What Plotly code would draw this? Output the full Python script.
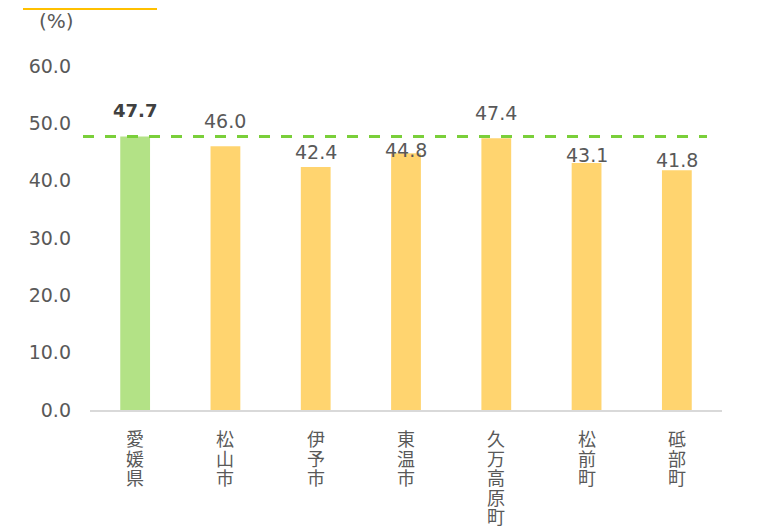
import plotly.graph_objects as go

categories = ["愛媛県", "松山市", "伊予市", "東温市", "久万高原町", "松前町", "砥部町"]
values = [47.7, 46.0, 42.4, 44.8, 47.4, 43.1, 41.8]
y_ticks = [0, 10, 20, 30, 40, 50, 60]
y_ticklabels = ["0.0", "10.0", "20.0", "30.0", "40.0", "50.0", "60.0"]
unit_label = "(%)"

# styles
GREEN = "#B3E286"
YELLOW = "#FFD46F"
colors = [GREEN] + [YELLOW] * (len(categories) - 1)
label_shift = [26, 25, 15, 3, 25, 8, 10]  # px above bar top (style)

# page has an 8px body margin; figure coords = page coords - 8
OFF = 8
W, H = 760, 529
ML, MR, MT, MB = 82, 46, 58, 127
PW, PH = W - ML - MR, H - MT - MB


def px_x(x):
    return (x - OFF - ML) / PW


def px_y(y):
    return (H - MB - (y - OFF)) / PH


FONT = "DejaVu Sans"
CJK = "Noto Sans CJK JP"
GRAY = "#595959"

fig = go.Figure()
fig.add_trace(go.Bar(
    x=categories, y=values, marker_color=colors, marker_line_width=0,
    width=0.33, hoverinfo="skip",
))

annotations = []
for i, (c, v) in enumerate(zip(categories, values)):
    annotations.append(dict(
        x=c, y=v, xref="x", yref="y", text=(f"<b>{v:.1f}</b>" if i == 0 else f"{v:.1f}"),
        showarrow=False, yanchor="middle", yshift=label_shift[i],
        font=dict(family=FONT, size=18 if i == 0 else 19, color="#404040" if i == 0 else GRAY),
    ))
    # vertical category label, one character per line
    for k, ch in enumerate(c):
        annotations.append(dict(
            x=c, y=0, xref="x", yref="y", text=ch, showarrow=False,
            xanchor="center", yanchor="middle", yshift=-(28 + k * 19.6),
            font=dict(family=CJK, size=18, color=GRAY),
        ))
annotations.append(dict(
    x=px_x(56), y=px_y(21), xref="paper", yref="paper", text=unit_label,
    showarrow=False, xanchor="center", yanchor="middle",
    font=dict(family=FONT, size=20, color=GRAY),
))

shapes = [
    dict(type="line", xref="paper", yref="y", x0=px_x(83), x1=px_x(707),
         y0=values[0], y1=values[0],
         line=dict(color="#7ACF3A", width=3, dash="11px,11px"), layer="above"),
    dict(type="line", xref="paper", yref="paper", x0=px_x(23), x1=px_x(157),
         y0=px_y(9), y1=px_y(9), line=dict(color="#FFC000", width=2)),
]

fig.update_layout(
    width=W, height=H,
    margin=dict(l=ML, r=MR, t=MT, b=MB),
    paper_bgcolor="white", plot_bgcolor="white",
    showlegend=False,
    annotations=annotations, shapes=shapes,
    xaxis=dict(
        tickmode="array", tickvals=categories, ticktext=[""] * len(categories),
        showline=True, linecolor="#D9D9D9", linewidth=2,
        showgrid=False, ticks="",
    ),
    yaxis=dict(
        range=[0, 60], tickmode="array", tickvals=y_ticks, ticktext=y_ticklabels,
        tickfont=dict(family=FONT, size=19, color=GRAY),
        showgrid=False, zeroline=False, showline=False, ticks="",
        ticklabelstandoff=18,
    ),
)

fig.write_html("out.html")
